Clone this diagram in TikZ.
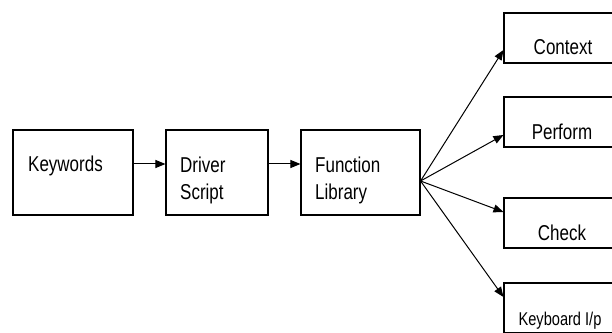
\documentclass[tikz,border=0pt]{standalone}
\usepackage{fontspec}
\setmainfont{Liberation Sans}[FakeStretch=0.79]
\usetikzlibrary{arrows.meta, calc}

\begin{document}
\begin{tikzpicture}[x=1pt, y=1pt,
    box/.style={draw, line width=1.1pt, inner sep=0pt},
    txt/.style={inner sep=0pt, font=\fontsize{21.5}{26.5}\selectfont},
    arr/.style={line width=1pt, -{Triangle[length=10pt,width=8pt]}}]
    \clip (0,0) rectangle (612,332);
    \node[box, minimum width=120, minimum height=85] (kw) at (73,159.5) {};
    \node[box, minimum width=102, minimum height=85] (drv) at (217,159.5) {};
    \node[box, minimum width=119, minimum height=85] (fn) at (360.5,159.5) {};
    \node[box, minimum width=120, minimum height=50] (ctx) at (564,294) {};
    \node[box, minimum width=120, minimum height=50] (prf) at (564,210) {};
    \node[box, minimum width=120, minimum height=50] (chk) at (564,109) {};
    \node[box, minimum width=120, minimum height=50] (kbd) at (564,24) {};
    \node[txt, anchor=base west] (kwt) at (28,160.3) {Keywords};
    \node[txt, anchor=base west, align=left] (drvt) at (180,132.7) {Driver\\Script};
    \node[txt, anchor=base west, align=left] (fnt) at (315,132.7) {Function\\Library};
    \node[txt, anchor=base] (ctxt) at (563,277) {Context};
    \node[txt, anchor=base] (prft) at (562,192) {Perform};
    \node[txt, anchor=base] (chkt) at (562,92) {Check};
    \node[txt, anchor=base, font=\fontsize{18.5}{22}\selectfont] (kbdt) at (560,7) {Keyboard I/p};
    \coordinate (row) at (0,168);
    \coordinate (hub) at ($(fn.east)+(0,-8.5)$);
    \draw[arr] (kw.east |- row) -- (drv.west |- row);
    \draw[arr] (drv.east |- row) -- (fn.west |- row);
    \draw[arr] (hub) -- ($(ctx.west)+(0,-12)$);
    \draw[arr] (hub) -- ($(prf.west)+(0,-13)$);
    \draw[arr] (hub) -- ($(chk.west)+(0,11)$);
    \draw[arr] (hub) -- ($(kbd.west)+(0,11)$);
\end{tikzpicture}
\end{document}
